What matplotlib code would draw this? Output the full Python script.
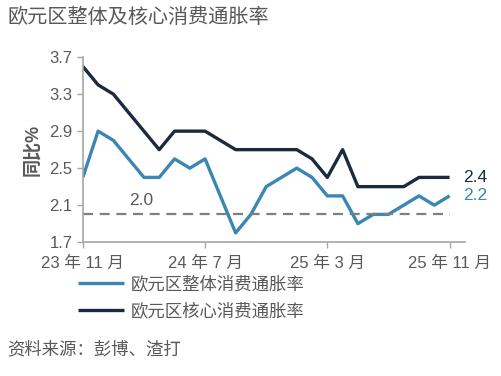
import matplotlib
matplotlib.use("Agg")
import matplotlib.pyplot as plt
import numpy as np

months = ["23-11","23-12","24-01","24-02","24-03","24-04","24-05","24-06","24-07","24-08","24-09","24-10",
          "24-11","24-12","25-01","25-02","25-03","25-04","25-05","25-06","25-07","25-08","25-09","25-10","25-11"]
headline = [2.4, 2.9, 2.8, 2.6, 2.4, 2.4, 2.6, 2.5, 2.6, 2.2, 1.8, 2.0,
            2.3, 2.4, 2.5, 2.4, 2.2, 2.2, 1.9, 2.0, 2.0, 2.1, 2.2, 2.1, 2.2]
core = [3.6, 3.4, 3.3, 3.1, 2.9, 2.7, 2.9, 2.9, 2.9, 2.8, 2.7, 2.7,
        2.7, 2.7, 2.7, 2.6, 2.4, 2.7, 2.3, 2.3, 2.3, 2.3, 2.4, 2.4, 2.4]
tick_idx = [0, 8, 16, 24]
tick_labels = ["23 年 11 月", "24 年 7 月", "25 年 3 月", "25 年 11 月"]
yticks = [1.7, 2.1, 2.5, 2.9, 3.3, 3.7]
target = 2.0

FONT = ['Liberation Sans', 'Noto Sans CJK SC', 'DejaVu Sans']
plt.rcParams['font.family'] = FONT

c_head = '#3a86b4'
c_core = '#1b2a3d'
c_grey = '#595959'
c_spine = '#a6a6a6'

fig = plt.figure(figsize=(5.02, 3.76), dpi=100)
ax = fig.add_axes([0.165, 0.356, 0.761, 0.492])
x = np.arange(len(months))
ax.plot(x, headline, color=c_head, lw=2.4, label="欧元区整体消费通胀率", solid_capstyle='butt')
ax.plot(x, core, color=c_core, lw=2.4, label="欧元区核心消费通胀率", solid_capstyle='butt')
ax.plot([x[0], x[-1]], [target, target], color='#7f7f7f', lw=1.6, dashes=(4.5, 3))
ax.text(3.8, 2.15, "2.0", color=c_grey, fontsize=12.5, ha='center', va='center')
ax.text(x[-1] + 0.9, core[-1], f"{core[-1]:.1f}", color=c_core, fontsize=12.5, va='center', ha='left')
ax.text(x[-1] + 0.9, headline[-1], f"{headline[-1]:.1f}", color=c_head, fontsize=12.5, va='center', ha='left')

ax.set_xlim(0, 25)
ax.set_ylim(1.7, 3.7)
ax.set_yticks(yticks)
ax.set_yticklabels([f"{v:.1f}" for v in yticks])
ax.set_xticks(tick_idx)
ax.set_xticklabels(tick_labels)
ax.tick_params(axis='both', colors=c_spine, labelcolor=c_grey, labelsize=12, length=4, width=1)
ax.tick_params(axis='x', pad=6)
for s in ['top', 'right']:
    ax.spines[s].set_visible(False)
for s in ['left', 'bottom']:
    ax.spines[s].set_color(c_spine)
    ax.spines[s].set_linewidth(1.2)
ax.set_ylabel("同比%", fontsize=13, fontweight='bold', color=c_grey, labelpad=6)

leg = fig.legend(loc='upper left', bbox_to_anchor=(0.155, 0.268), frameon=False, fontsize=12.5,
                 handlelength=2.65, handletextpad=0.4, labelspacing=0.6, labelcolor=c_grey,
                 borderaxespad=0, borderpad=0)

fig.text(0.014, 0.955, "欧元区整体及核心消费通胀率", fontsize=14.5, color=c_grey, va='center', ha='left')
fig.text(0.014, 0.072, "资料来源：彭博、渣打", fontsize=12.5, color=c_grey, va='center', ha='left')

fig.savefig("out.png", dpi=100)
